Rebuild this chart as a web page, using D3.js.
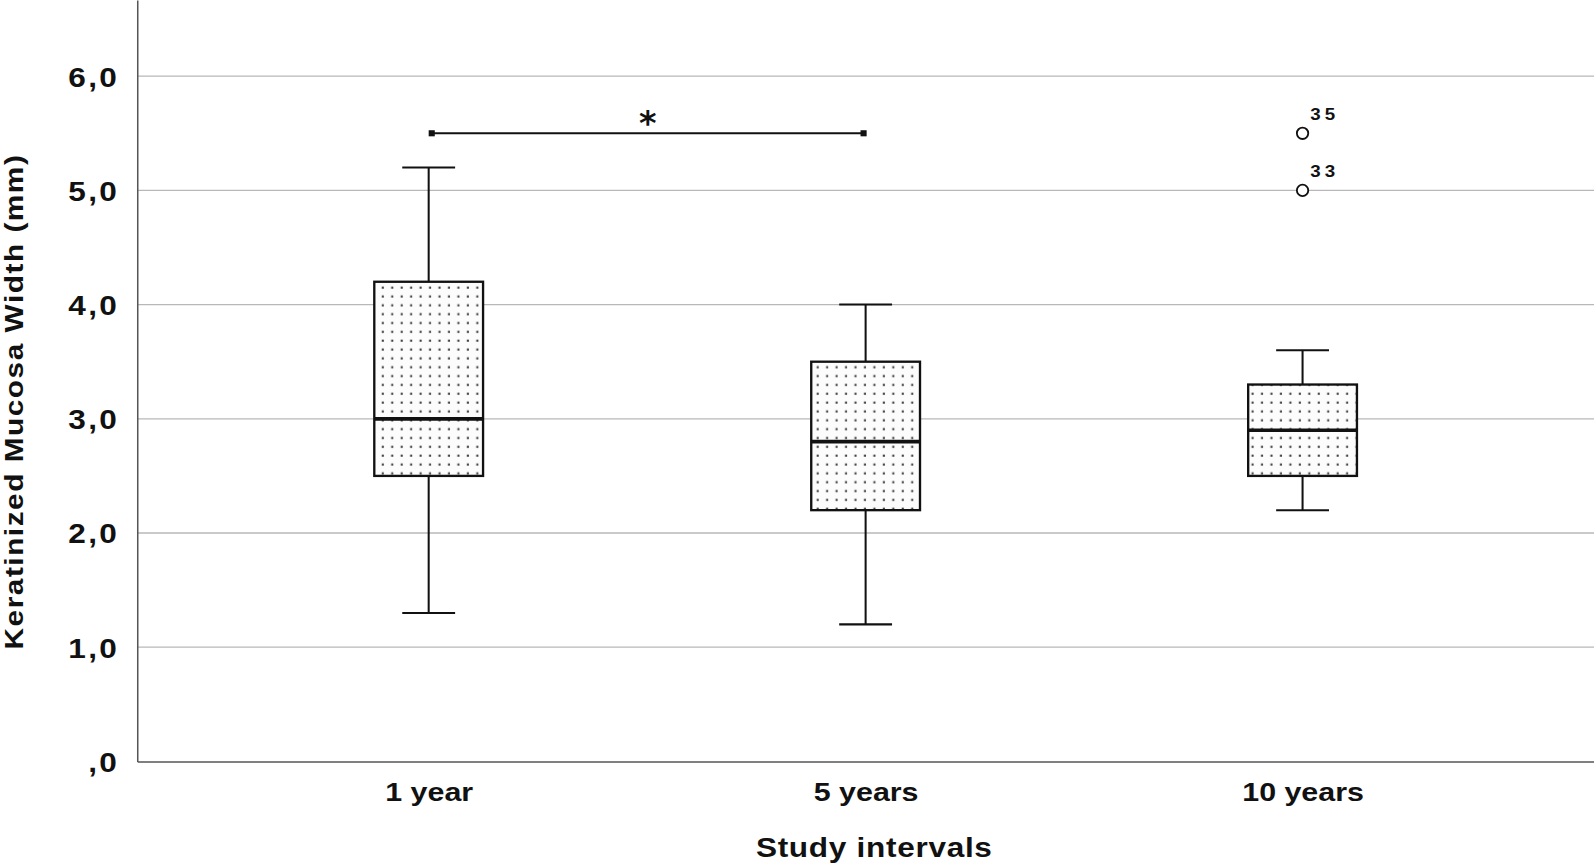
<!DOCTYPE html>
<html>
<head>
<meta charset="utf-8">
<script src="https://cdn.jsdelivr.net/npm/d3@7"></script>
<style>
  body { margin: 0; background: #fff; }
  text { font-family: "Liberation Sans", Arial, sans-serif; }
</style>
</head>
<body>
<svg id="chart" width="1594" height="866"></svg>
<script>
// data
var categories = ["1 year", "5 years", "10 years"];
var mins    = [1.3, 1.2, 2.2];
var q1s     = [2.5, 2.2, 2.5];
var medians = [3.0, 2.8, 2.9];
var q3s     = [4.2, 3.5, 3.3];
var maxs    = [5.2, 4.0, 3.6];
var outliers = [
    { cat: "10 years", value: 5.0, label: "33" },
    { cat: "10 years", value: 5.5, label: "35" }
];
var yTicks = [0, 1, 2, 3, 4, 5, 6];
var sigPair = ["1 year", "5 years"];
var sigValue = 5.5;

// layout measured on a 1568 wide copy, so scale everything up
var k = 1594 / 1568;
// the reference type is a wide helvetica, stretch liberation a bit
var wide = 1.15;
var svg = d3.select("#chart").append("g").attr("transform", "scale(" + k + ")");
// plot area (don't use "top" as a global, it's window.top)
var pLeft = 135, pRight = 1568, pTop = 0, pBottom = 749;

var x = d3.scalePoint().domain(categories).range([pLeft, pRight]).padding(0.667);
var y = d3.scaleLinear().domain([0, 6.667]).range([pBottom, pTop]);

// dotted fill
var defs = d3.select("#chart").append("defs");
var pat = defs.append("pattern").attr("id", "dots")
    .attr("patternUnits", "userSpaceOnUse")
    .attr("width", 9.3).attr("height", 8.7);
pat.append("rect").attr("width", 9.3).attr("height", 8.7).attr("fill", "#fcfcfc");
pat.append("rect").attr("x", 3.5).attr("y", 3.5).attr("width", 2.1).attr("height", 2.1).attr("fill", "#444");

// gridlines
svg.append("g").selectAll("line").data(yTicks.filter(function(d) { return d > 0; }))
    .enter().append("line")
    .attr("x1", pLeft).attr("x2", pRight)
    .attr("y1", function(d) { return y(d); }).attr("y2", function(d) { return y(d); })
    .attr("stroke", "#b8b8b8").attr("stroke-width", 1.3);

// y axis
var yaxis = d3.axisLeft(y).tickValues(yTicks).tickSize(0).tickPadding(15.4)
    .tickFormat(function(d) { return d === 0 ? ",0" : d3.format(".1f")(d).replace(".", ","); });
var gy = svg.append("g").attr("transform", "translate(" + pLeft + ",0)").call(yaxis);
gy.select(".domain").attr("stroke", "#555").attr("stroke-width", 1.5);
gy.selectAll("text").attr("font-size", 27).attr("font-weight", "bold").attr("fill", "#111")
    .attr("letter-spacing", 2).attr("dy", "0.36em")
    .attr("transform", "scale(" + wide + ",1)");

// x axis
var xaxis = d3.axisBottom(x).tickSize(0).tickPadding(20);
var gx = svg.append("g").attr("transform", "translate(0," + pBottom + ")").call(xaxis);
gx.select(".domain").attr("stroke", "#555").attr("stroke-width", 1.5);
gx.selectAll("text").attr("font-size", 26).attr("font-weight", "bold").attr("fill", "#111")
    .attr("transform", "scale(" + wide + ",1)");

// axis titles
svg.append("text").text("Study intervals")
    .attr("transform", "translate(860,843) scale(" + wide + ",1)")
    .attr("text-anchor", "middle").attr("font-size", 27).attr("font-weight", "bold").attr("fill", "#111")
    .attr("letter-spacing", 0.6);
svg.append("text").text("Keratinized Mucosa Width (mm)")
    .attr("transform", "translate(23,395) rotate(-90) scale(" + wide + ",1)")
    .attr("text-anchor", "middle").attr("font-size", 25.5).attr("font-weight", "bold").attr("fill", "#111")
    .attr("letter-spacing", 1.3);

// boxes
var boxW = 107, capW = 52;
var boxes = categories.map(function(c, i) {
    return { cat: c, min: mins[i], q1: q1s[i], med: medians[i], q3: q3s[i], max: maxs[i] };
});
var g = svg.append("g").selectAll("g").data(boxes).enter().append("g");

g.append("line").attr("x1", function(d) { return x(d.cat); }).attr("x2", function(d) { return x(d.cat); })
    .attr("y1", function(d) { return y(d.max); }).attr("y2", function(d) { return y(d.q3); })
    .attr("stroke", "#111").attr("stroke-width", 2);
g.append("line").attr("x1", function(d) { return x(d.cat); }).attr("x2", function(d) { return x(d.cat); })
    .attr("y1", function(d) { return y(d.q1); }).attr("y2", function(d) { return y(d.min); })
    .attr("stroke", "#111").attr("stroke-width", 2);
["max", "min"].forEach(function(key) {
    g.append("line").attr("x1", function(d) { return x(d.cat) - capW / 2; })
        .attr("x2", function(d) { return x(d.cat) + capW / 2; })
        .attr("y1", function(d) { return y(d[key]); }).attr("y2", function(d) { return y(d[key]); })
        .attr("stroke", "#111").attr("stroke-width", 2);
});
g.append("rect").attr("x", function(d) { return x(d.cat) - boxW / 2; })
    .attr("width", boxW)
    .attr("y", function(d) { return y(d.q3); })
    .attr("height", function(d) { return y(d.q1) - y(d.q3); })
    .attr("fill", "url(#dots)").attr("stroke", "#111").attr("stroke-width", 2.3);
g.append("line").attr("x1", function(d) { return x(d.cat) - boxW / 2; })
    .attr("x2", function(d) { return x(d.cat) + boxW / 2; })
    .attr("y1", function(d) { return y(d.med); }).attr("y2", function(d) { return y(d.med); })
    .attr("stroke", "#111").attr("stroke-width", 3.6);

// outliers
svg.append("g").selectAll("circle").data(outliers).enter().append("circle")
    .attr("cx", function(d) { return x(d.cat); }).attr("cy", function(d) { return y(d.value); })
    .attr("r", 5.6).attr("fill", "#fff").attr("stroke", "#111").attr("stroke-width", 1.8);
svg.append("g").selectAll("text").data(outliers).enter().append("text")
    .text(function(d) { return d.label; })
    .attr("transform", function(d) {
        return "translate(" + (x(d.cat) + 7.5) + "," + (y(d.value) - 13.5) + ") scale(" + wide + ",1)";
    })
    .attr("font-size", 16).attr("font-weight", "bold").attr("letter-spacing", 3.5).attr("fill", "#111");

// significance bar
var sx1 = x(sigPair[0]) + 3, sx2 = x(sigPair[1]) - 2, sy = y(sigValue);
svg.append("line").attr("x1", sx1).attr("x2", sx2).attr("y1", sy).attr("y2", sy)
    .attr("stroke", "#111").attr("stroke-width", 2);
[sx1, sx2].forEach(function(px) {
    svg.append("rect").attr("x", px - 3).attr("y", sy - 3).attr("width", 6).attr("height", 6).attr("fill", "#111");
});
svg.append("text").text("*").attr("x", (sx1 + sx2) / 2).attr("y", sy + 2)
    .attr("text-anchor", "middle").attr("font-size", 33).attr("font-weight", "bold").attr("fill", "#111")
    .style("font-family", "DejaVu Sans");
</script>
</body>
</html>
